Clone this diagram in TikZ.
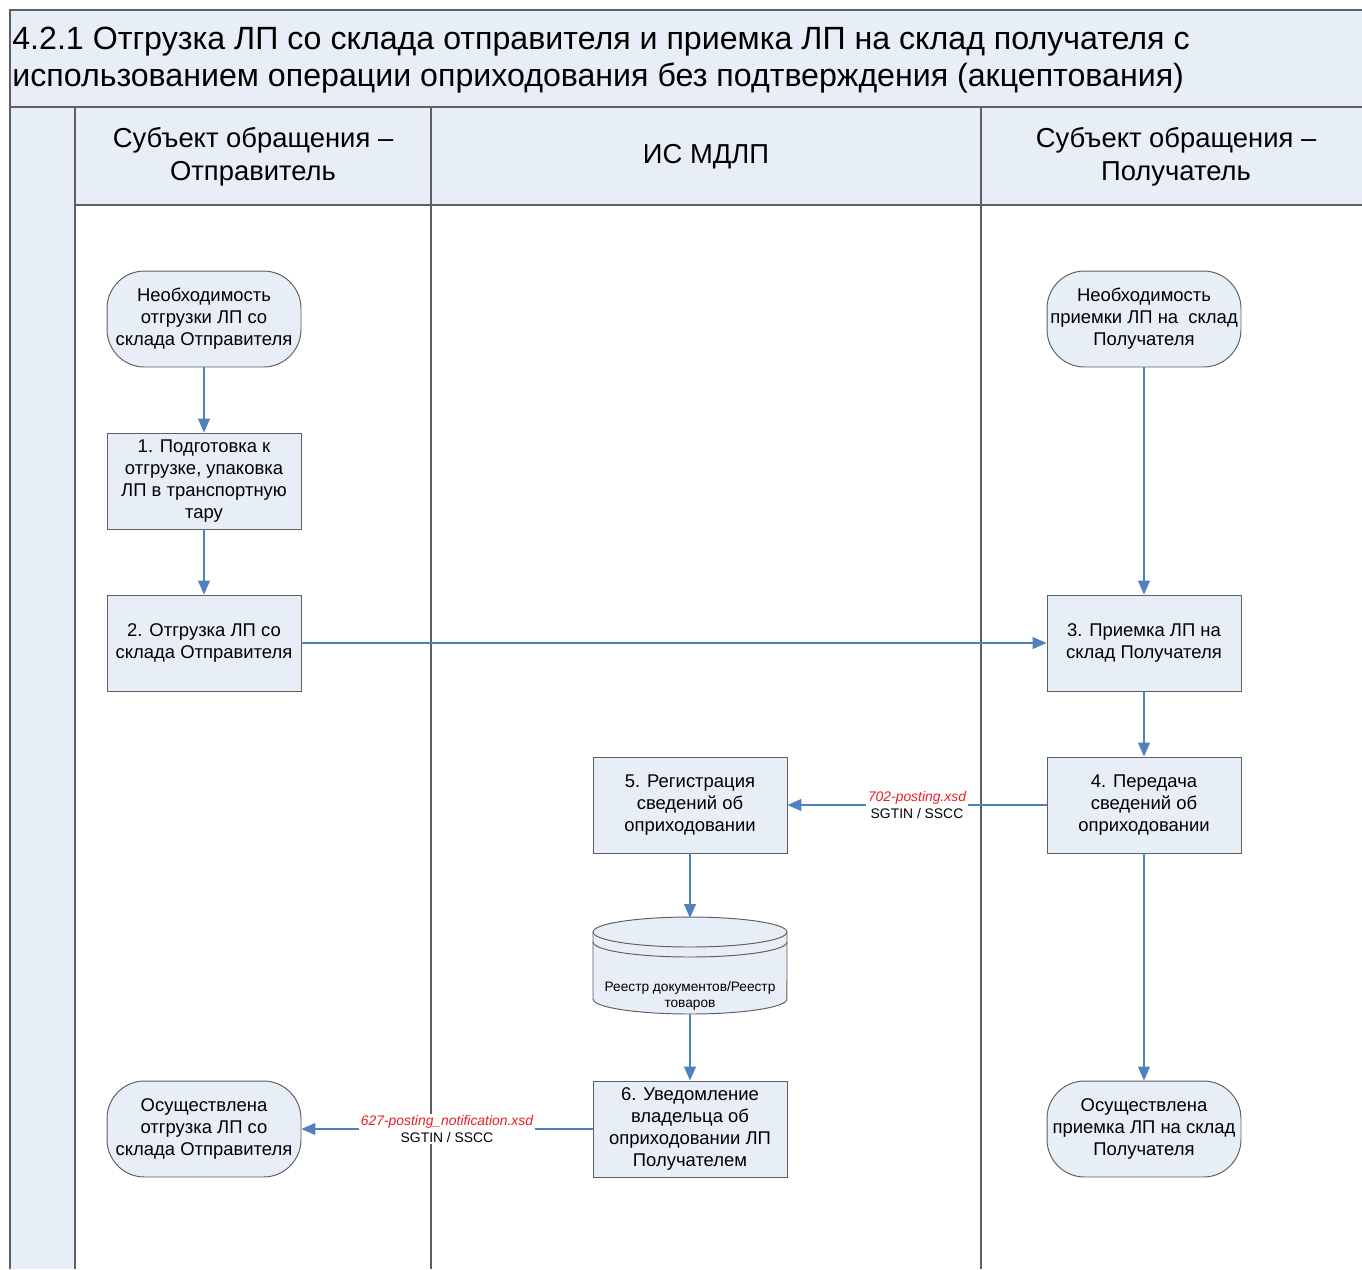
\documentclass[tikz,border=0pt]{standalone}
\usepackage{fontspec}
\setmainfont{Liberation Sans}
\usetikzlibrary{arrows.meta}
\definecolor{lanefill}{RGB}{232,238,247}
\definecolor{flowblue}{RGB}{79,129,189}
\definecolor{xsdred}{RGB}{232,30,36}
\definecolor{edgegray}{RGB}{95,95,95}

\begin{document}
\begin{tikzpicture}[x=0.02cm, y=-0.02cm,
	proc/.style={draw=edgegray, fill=lanefill, line width=0.55pt, minimum width=3.88cm, minimum height=1.92cm, inner sep=1pt, align=center, font=\fontsize{10.5}{12.5}\selectfont},
	term/.style={proc, rounded corners=0.75cm},
	hdr/.style={align=center, font=\fontsize{15.6}{18.8}\selectfont},
	flow/.style={draw=flowblue, line width=0.6pt, -{Triangle[length=0.28cm, width=0.24cm]}},
	xsd/.style={fill=white, align=center, inner sep=1pt, font=\fontsize{7.9}{9.2}\selectfont}]
	\useasboundingbox (0,0) rectangle (1362,1269);
	% pool and lanes
	\fill[lanefill] (10,10) rectangle (1362,107);
	\fill[lanefill] (10,107) rectangle (75,1269);
	\fill[lanefill] (75,107) rectangle (1362,205);
	\draw[edgegray, line width=0.6pt] (1362,10) -- (10,10) -- (10,1269);
	\draw[edgegray, line width=0.6pt] (10,107) -- (1362,107);
	\draw[edgegray, line width=0.6pt] (75,205) -- (1362,205);
	\draw[edgegray, line width=0.6pt] (75,107) -- (75,1269);
	\draw[edgegray, line width=0.6pt] (431,107) -- (431,1269);
	\draw[edgegray, line width=0.6pt] (981,107) -- (981,1269);

	\node [anchor=west, align=left, inner sep=0pt, font=\fontsize{18.3}{21}\selectfont] (title) at (12,60)
		{4.2.1 Отгрузка ЛП со склада отправителя и приемка ЛП на склад получателя с\\использованием операции оприходования без подтверждения (акцептования)};
	\node [hdr] (sender) at (253,157) {Субъект обращения –\\Отправитель};
	\node [hdr] (mdlp) at (706,157) {ИС МДЛП};
	\node [hdr] (receiver) at (1176,157) {Субъект обращения –\\Получатель};

	% sender lane
	\node [term] (needship) at (204,319) {Необходимость\\отгрузки ЛП со\\склада Отправителя};
	\node [proc] (prep) at (204,481) {1. Подготовка к\\отгрузке, упаковка\\ЛП в транспортную\\тару};
	\node [proc] (ship) at (204,643) {2. Отгрузка ЛП со\\склада Отправителя};
	\node [term] (shipped) at (204,1129) {Осуществлена\\отгрузка ЛП со\\склада Отправителя};

	% receiver lane
	\node [term] (needrecv) at (1144,319) {Необходимость\\приемки ЛП на~~склад\\Получателя};
	\node [proc] (recv) at (1144,643) {3. Приемка ЛП на\\склад Получателя};
	\node [proc] (send) at (1144,805) {4. Передача\\сведений об\\оприходовании};
	\node [term] (received) at (1144,1129) {Осуществлена\\приемка ЛП на склад\\Получателя};

	% MDLP lane
	\node [proc] (reg) at (690,805) {5. Регистрация\\сведений об\\оприходовании};
	\node [proc] (notify) at (690,1129) {6. Уведомление\\владельца об\\оприходовании ЛП\\Получателем};

	\filldraw[fill=lanefill, draw=edgegray, line width=0.55pt] (593,932) -- (593,999)
		arc[start angle=180, end angle=360, x radius=1.94cm, y radius=0.3cm] -- (787,932)
		arc[start angle=0, end angle=180, x radius=1.94cm, y radius=0.3cm] -- cycle;
	\draw[edgegray, line width=0.55pt] (593,932) arc[start angle=180, end angle=360, x radius=1.94cm, y radius=0.3cm];
	\draw[edgegray, line width=0.55pt] (593,942) arc[start angle=180, end angle=360, x radius=1.94cm, y radius=0.3cm];
	\node [align=center, font=\fontsize{7.8}{9.6}\selectfont] (registry) at (690,996) {Реестр документов/Реестр\\товаров};
	\coordinate (dbtop) at (690,918);
	\coordinate (dbbot) at (690,1014);

	\draw[flow] (needship) -- (prep);
	\draw[flow] (prep) -- (ship);
	\draw[flow] (ship) -- (recv);
	\draw[flow] (needrecv) -- (recv);
	\draw[flow] (recv) -- (send);
	\draw[flow] (send) -- (reg) node [xsd, midway] {\textcolor{xsdred}{\itshape 702-posting.xsd}\\SGTIN / SSCC};
	\draw[flow] (reg) -- (dbtop);
	\draw[flow] (dbbot) -- (notify);
	\draw[flow] (notify) -- (shipped) node [xsd, midway] {\textcolor{xsdred}{\itshape 627-posting\_notification.xsd}\\SGTIN / SSCC};
	\draw[flow] (send) -- (received);
\end{tikzpicture}
\end{document}
